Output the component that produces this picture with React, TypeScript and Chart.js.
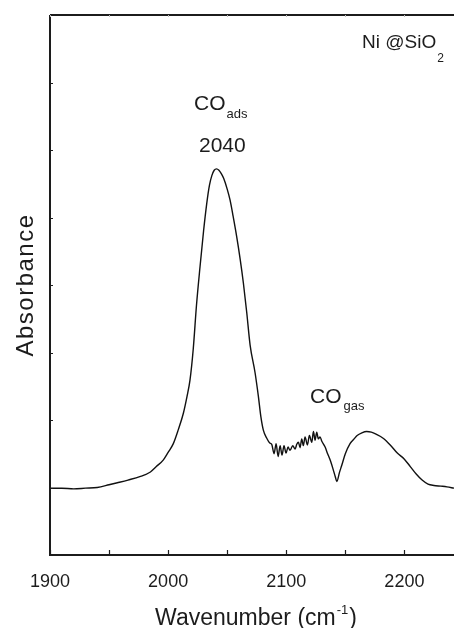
import React, { useEffect, useRef } from "react";
import { Chart, registerables } from "chart.js";

Chart.register(...registerables);

// Wavenumber (cm-1) of each sampled point
const wavenumbers = [
  1900, 1910, 1920, 1930, 1940, 1950, 1957, 1966, 1976, 1985, 1990, 1996, 2000,
  2004.4, 2008.5, 2012.9, 2016, 2018.5, 2021.3, 2024, 2027, 2030, 2032.7, 2035,
  2037, 2039, 2041, 2043, 2045, 2047, 2050, 2052.4, 2055, 2058, 2061, 2063.7,
  2066.5, 2069.4, 2073.6, 2076.4, 2078.5, 2080.6, 2083.5, 2086, 2087.7, 2089.7,
  2091.4, 2093.1, 2094.8, 2096.4, 2098.1, 2099.8, 2101.5, 2103.2, 2105.5,
  2107.5, 2108.9, 2110.3, 2111.7, 2113.1, 2114.5, 2115.9, 2117.9, 2119.6,
  2121.6, 2123, 2124.4, 2125.8, 2127.2, 2128.6, 2130, 2132.9, 2135, 2137.1,
  2139.5, 2141.5, 2142.8, 2145, 2147, 2150, 2154, 2157, 2160, 2164, 2168, 2172,
  2176, 2182, 2188, 2194, 2200, 2205, 2210, 2215, 2220, 2225, 2231, 2236, 2242,
];

// Absorbance (arbitrary units) at each wavenumber
const absorbance = [
  0.99, 0.99, 0.98, 0.99, 1.0, 1.04, 1.07, 1.11, 1.16, 1.23, 1.31, 1.41, 1.52,
  1.65, 1.85, 2.1, 2.35, 2.59, 3.06, 3.7, 4.27, 4.8, 5.21, 5.48, 5.62, 5.7,
  5.72, 5.7, 5.65, 5.58, 5.42, 5.26, 5.02, 4.72, 4.38, 4.03, 3.6, 3.11, 2.7,
  2.35, 2.05, 1.85, 1.73, 1.66, 1.64, 1.5, 1.65, 1.46, 1.62, 1.48, 1.62, 1.51,
  1.6, 1.55, 1.62, 1.57, 1.64, 1.67, 1.59, 1.72, 1.62, 1.75, 1.63, 1.77, 1.67,
  1.83, 1.7, 1.82, 1.72, 1.75, 1.69, 1.6, 1.5, 1.41, 1.28, 1.16, 1.09, 1.22,
  1.33, 1.5, 1.65, 1.71, 1.77, 1.81, 1.83, 1.82, 1.79, 1.73, 1.63, 1.51, 1.42,
  1.31, 1.2, 1.11, 1.05, 1.03, 1.02, 1.01, 0.99,
];

const xMajorTicks = [1900, 2000, 2100, 2200];
const xMinorTicks = [1950, 2050, 2150];
const yTicks = [1, 2, 3, 4, 5, 6, 7];

const xTitle = "Wavenumber (cm";
const xTitleSup = "-1";
const xTitleEnd = ")";
const yTitle = "Absorbance";
const peakLabel = "CO";
const peakSub = "ads";
const peakValue = "2040";
const gasLabel = "CO";
const gasSub = "gas";
const sampleLabel = "Ni @SiO";
const sampleSub = "2";

const FONT = "'Liberation Sans', Arial, Helvetica, sans-serif";
const INK = "#1c1c1c";

export default function App() {
  const ref = useRef<HTMLCanvasElement | null>(null);

  useEffect(() => {
    const canvas = ref.current;
    if (!canvas) return;

    const decor = {
      id: "decor",
      afterDraw(chart: any) {
        const ctx: CanvasRenderingContext2D = chart.ctx;
        const { left, right, top, bottom } = chart.chartArea;
        const xs = chart.scales.x;
        const ys = chart.scales.y;
        ctx.save();
        // frame
        ctx.strokeStyle = INK;
        ctx.lineWidth = 2;
        ctx.beginPath();
        ctx.moveTo(left, top);
        ctx.lineTo(right, top);
        ctx.moveTo(left, top);
        ctx.lineTo(left, bottom);
        ctx.lineTo(right, bottom);
        ctx.stroke();

        // inward ticks
        ctx.lineWidth = 1.2;
        ctx.beginPath();
        [...xMajorTicks, ...xMinorTicks].forEach((v) => {
          const px = Math.round(xs.getPixelForValue(v)) + 0.5;
          ctx.moveTo(px, bottom);
          ctx.lineTo(px, bottom - 5);
        });
        yTicks.forEach((v) => {
          const py = Math.round(ys.getPixelForValue(v)) + 0.5;
          ctx.moveTo(left, py);
          ctx.lineTo(left + 3, py);
        });
        ctx.stroke();
        ctx.strokeStyle = "#bbbbbb";
        ctx.lineWidth = 1;
        ctx.beginPath();
        [...xMajorTicks, ...xMinorTicks].forEach((v) => {
          const px = Math.round(xs.getPixelForValue(v)) + 0.5;
          ctx.moveTo(px, top);
          ctx.lineTo(px, top + 2);
        });
        ctx.stroke();

        // texts
        ctx.fillStyle = INK;
        ctx.textBaseline = "alphabetic";
        ctx.textAlign = "left";

        // CO_ads
        ctx.font = `21px ${FONT}`;
        ctx.fillText(peakLabel, 194, 110);
        const coW = ctx.measureText(peakLabel).width;
        ctx.font = `13px ${FONT}`;
        ctx.fillText(peakSub, 194 + coW + 1, 118);
        // 2040
        ctx.font = `21px ${FONT}`;
        ctx.fillText(peakValue, 199, 152);

        // CO_gas
        ctx.font = `21px ${FONT}`;
        ctx.fillText(gasLabel, 310, 403);
        const gW = ctx.measureText(gasLabel).width;
        ctx.font = `13px ${FONT}`;
        ctx.fillText(gasSub, 310 + gW + 2, 410);

        // Ni@SiO2
        ctx.font = `19px ${FONT}`;
        ctx.fillText(sampleLabel, 362, 48);
        const sW = ctx.measureText(sampleLabel).width;
        ctx.font = `12px ${FONT}`;
        ctx.fillText(sampleSub, 362 + sW + 1, 62);

        // x title
        ctx.font = `23px ${FONT}`;
        const w1 = ctx.measureText(xTitle).width;
        ctx.font = `13px ${FONT}`;
        const w2 = ctx.measureText(xTitleSup).width;
        ctx.font = `23px ${FONT}`;
        const w3 = ctx.measureText(xTitleEnd).width;
        const total = w1 + w2 + w3 + 2;
        const cx = 256;
        const x0 = cx - total / 2;
        ctx.fillText(xTitle, x0, 625);
        ctx.font = `13px ${FONT}`;
        ctx.fillText(xTitleSup, x0 + w1 + 1, 614);
        ctx.font = `23px ${FONT}`;
        ctx.fillText(xTitleEnd, x0 + w1 + w2 + 2, 625);

        // y title
        ctx.translate(33, (top + bottom) / 2);
        ctx.rotate(-Math.PI / 2);
        ctx.font = `24px ${FONT}`;
        (ctx as any).letterSpacing = "1.5px";
        ctx.textAlign = "center";
        ctx.fillText(yTitle, 0, 0);
        ctx.restore();
      },
    };

    const chart = new Chart(canvas, {
      type: "line",
      data: {
        datasets: [
          {
            data: wavenumbers.map((w, i) => ({ x: w, y: absorbance[i] })),
            borderColor: "#111111",
            borderWidth: 1.4,
            pointRadius: 0,
            cubicInterpolationMode: "monotone",
            fill: false,
          },
        ],
      },
      options: {
        animation: false,
        responsive: false,
        events: [],
        layout: { padding: { top: 15, right: 0, left: 0, bottom: 0 } },
        plugins: {
          legend: { display: false },
          tooltip: { enabled: false },
          title: { display: false },
        },
        scales: {
          x: {
            type: "linear",
            min: 1900,
            max: 2242,
            grid: { display: false, drawTicks: false },
            border: { display: false },
            afterBuildTicks: (s: any) => {
              s.ticks = xMajorTicks.map((v) => ({ value: v }));
            },
            afterFit: (s: any) => {
              s.height = 73;
            },
            ticks: {
              color: INK,
              padding: 16,
              maxRotation: 0,
              autoSkip: false,
              font: { family: FONT, size: 18 },
              callback: (v: any) => String(v),
            },
          },
          y: {
            type: "linear",
            min: 0,
            max: 8,
            grid: { display: false, drawTicks: false },
            border: { display: false },
            ticks: { display: false },
            afterFit: (s: any) => {
              s.width = 50;
            },
          },
        },
      },
      plugins: [decor],
    } as any);

    return () => chart.destroy();
  }, []);

  return (
    <div style={{ position: "absolute", left: 0, top: 0, width: 454, height: 628, background: "#fff" }}>
      <canvas ref={ref} width={454} height={628} style={{ display: "block" }} />
    </div>
  );
}
